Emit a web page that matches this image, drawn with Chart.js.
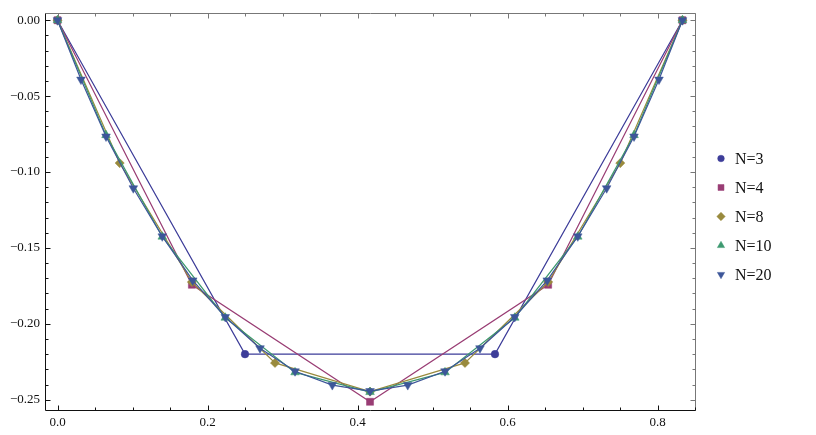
<!DOCTYPE html>
<html>
<head>
<meta charset="utf-8">
<script src="https://cdn.jsdelivr.net/npm/chart.js@4.4.1/dist/chart.umd.min.js"></script>
<style>
  html, body { margin: 0; padding: 0; background: #fff; }
  canvas { display: block; }
</style>
</head>
<body>
<canvas id="chart" width="816" height="435"></canvas>
<script>
// series
const seriesLabels = ['N=3', 'N=4', 'N=8', 'N=10', 'N=20'];

const xN3 = [0, 0.25, 0.5833, 0.8333];
const yN3 = [0, -0.22, -0.22, 0];

const xN4 = [0, 0.1792, 0.4167, 0.6542, 0.8333];
const yN4 = [0, -0.1743, -0.2514, -0.1743, 0];

const xN8 = [0, 0.0829, 0.1792, 0.2900, 0.4167, 0.5433, 0.6542, 0.7504, 0.8333];
const yN8 = [0, -0.0941, -0.1725, -0.2258, -0.2447, -0.2258, -0.1725, -0.0941, 0];

const xN10 = [0, 0.0647, 0.1397, 0.2237, 0.3167, 0.4167, 0.5167, 0.6097, 0.6937, 0.7687, 0.8333];
const yN10 = [0, -0.0757, -0.1426, -0.1960, -0.2320, -0.2450, -0.2320, -0.1960, -0.1426, -0.0757, 0];

const xN20 = [0, 0.0313, 0.0647, 0.1011, 0.1397, 0.1803, 0.2237, 0.2700, 0.3167, 0.3664, 0.4167,
              0.4670, 0.5167, 0.5633, 0.6097, 0.6530, 0.6937, 0.7322, 0.7687, 0.8020, 0.8333];
const yN20 = [0, -0.0391, -0.0766, -0.1107, -0.1424, -0.1714, -0.1955, -0.2161, -0.2313, -0.2404, -0.2443,
              -0.2404, -0.2313, -0.2161, -0.1955, -0.1714, -0.1424, -0.1107, -0.0766, -0.0391, 0];

const xTickValues = [0, 0.2, 0.4, 0.6, 0.8];
const yTickValues = [0, -0.05, -0.10, -0.15, -0.20, -0.25];

const colors = ['#3d3d99', '#993d74', '#998a3d', '#3d9970', '#3d5699'];
const pointStyles = ['circle', 'rect', 'rectRot', 'triangle', 'triangle'];
const pointRotations = [0, 0, 0, 0, 180];
const pointSizes = [3.8, 5, 4.6, 5, 5];

const allX = [xN3, xN4, xN8, xN10, xN20];
const allY = [yN3, yN4, yN8, yN10, yN20];

function toPoints(xs, ys) {
    return xs.map((x, i) => ({ x: x, y: ys[i] }));
}

const datasets = seriesLabels.map((label, i) => ({
    label: label,
    data: toPoints(allX[i], allY[i]),
    showLine: true,
    borderColor: colors[i],
    borderWidth: 1.2,
    backgroundColor: colors[i],
    pointStyle: pointStyles[i],
    pointRotation: pointRotations[i],
    pointRadius: pointSizes[i],
    pointBackgroundColor: colors[i],
    pointBorderColor: colors[i],
    pointBorderWidth: 0.5,
    order: seriesLabels.length - i   // last series on top
}));

const serif = '"Liberation Serif", "DejaVu Serif", serif';
const MINUS = '\u2212';

// frame with inward ticks, Mathematica style
const framePlugin = {
    id: 'frame',
    beforeDatasetsDraw(chart) {
        const ctx = chart.ctx;
        const a = chart.chartArea;
        const xs = chart.scales.x;
        const ys = chart.scales.y;
        const L = Math.round(a.left) + 0.5, R = Math.round(a.right) + 0.5;
        const T = Math.round(a.top) + 0.5, B = Math.round(a.bottom) + 0.5;

        function tickMarks(edgeX, dirX, edgeY, dirY) {
            for (let k = 0; k <= 17; k++) {
                const px = Math.round(xs.getPixelForValue(k * 0.05)) + 0.5;
                const len = (k % 4 === 0) ? 5 : 3;
                ctx.moveTo(px, edgeY); ctx.lineTo(px, edgeY + dirY * len);
            }
            for (let k = 0; k <= 25; k++) {
                const py = Math.round(ys.getPixelForValue(-k * 0.01)) + 0.5;
                const len = (k % 5 === 0) ? 5 : 3;
                ctx.moveTo(edgeX, py); ctx.lineTo(edgeX + dirX * len, py);
            }
        }

        ctx.save();
        ctx.lineWidth = 1;

        // top and right, lighter
        ctx.strokeStyle = '#777';
        ctx.beginPath();
        ctx.moveTo(L, T); ctx.lineTo(R, T); ctx.lineTo(R, B);
        tickMarks(R, -1, T, 1);
        ctx.stroke();

        // left and bottom axes
        ctx.strokeStyle = '#111';
        ctx.beginPath();
        ctx.moveTo(L, T); ctx.lineTo(L, B); ctx.lineTo(R, B);
        tickMarks(L, 1, B, -1);
        ctx.stroke();
        ctx.restore();
    }
};

// legend on the right
const legendPlugin = {
    id: 'sideLegend',
    afterDraw(chart) {
        const ctx = chart.ctx;
        ctx.save();
        chart.data.datasets.forEach((ds, i) => {
            const y = 158.5 + 29 * i;
            ctx.fillStyle = ds.pointBackgroundColor;
            ctx.strokeStyle = ds.pointBorderColor;
            ctx.lineWidth = 0.5;
            Chart.helpers.drawPoint(ctx, {
                pointStyle: ds.pointStyle,
                rotation: ds.pointRotation,
                radius: ds.pointStyle === 'circle' ? 3.3 : 4.2,
                borderWidth: 0.5
            }, 721, y);
            ctx.fillStyle = '#111';
            ctx.font = '16px ' + serif;
            ctx.textAlign = 'left';
            ctx.textBaseline = 'middle';
            ctx.fillText(ds.label, 735, y + 1);
        });
        ctx.restore();
    }
};

const chart = new Chart(document.getElementById('chart').getContext('2d'), {
    type: 'scatter',
    data: { datasets: datasets },
    options: {
        responsive: false,
        animation: false,
        devicePixelRatio: 1,
        layout: { padding: { top: 8, right: 121, left: 0, bottom: 0 } },
        plugins: {
            legend: { display: false },
            tooltip: { enabled: false }
        },
        scales: {
            x: {
                type: 'linear',
                min: -0.01667,
                max: 0.85,
                grid: { display: false, drawTicks: false },
                border: { display: false },
                afterBuildTicks: (axis) => { axis.ticks = xTickValues.map(v => ({ value: v })); },
                afterFit: (axis) => { axis.height = 25; },
                ticks: {
                    padding: 5,
                    color: '#111',
                    font: { family: serif, size: 13 },
                    maxRotation: 0,
                    callback: (v) => Number(v).toFixed(1)
                }
            },
            y: {
                type: 'linear',
                min: -0.2568,
                max: 0.0049,
                grid: { display: false, drawTicks: false },
                border: { display: false },
                afterBuildTicks: (axis) => { axis.ticks = yTickValues.map(v => ({ value: v })); },
                afterFit: (axis) => { axis.width = 45; },
                ticks: {
                    padding: 5,
                    color: '#111',
                    font: { family: serif, size: 13 },
                    callback: (v) => (v < 0 ? MINUS : '') + Math.abs(v).toFixed(2)
                }
            }
        }
    },
    plugins: [framePlugin, legendPlugin]
});
</script>
</body>
</html>
